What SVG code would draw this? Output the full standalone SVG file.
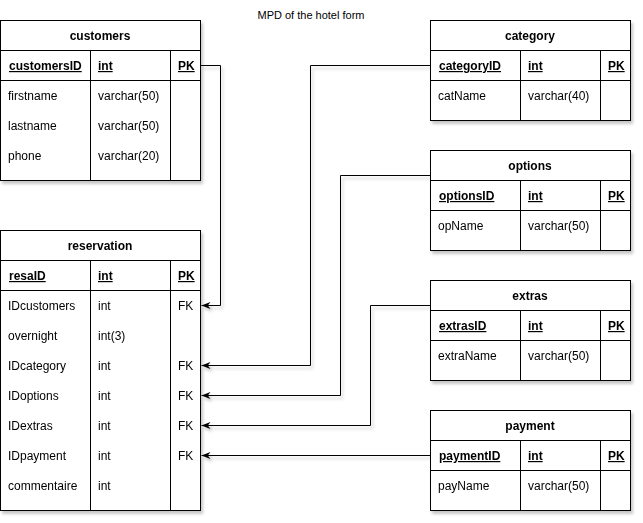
<svg xmlns="http://www.w3.org/2000/svg" width="643" height="523" viewBox="0 0 643 523">
<style>
  .box{fill:#fff;stroke:#000;stroke-width:1}
  .ln{stroke:#000;stroke-width:1;fill:none}
  .t{font-family:"Liberation Sans",Arial,sans-serif;font-size:12px;fill:#000}
  .h{font-weight:bold;text-anchor:middle}
  .pk{font-weight:bold;text-decoration:underline}
  .title{font-family:"Liberation Sans",Arial,sans-serif;font-size:11px;fill:#000;text-anchor:middle}
  .edge{stroke:#000;stroke-width:1;fill:none;marker-end:url(#arr)}
</style>
<defs>
  <filter id="sh" x="-10%" y="-10%" width="130%" height="130%">
    <feDropShadow dx="2" dy="3" stdDeviation="1.5" flood-color="#000" flood-opacity="0.22"/>
  </filter>
  <marker id="arr" viewBox="0 0 10 10" refX="10" refY="5" markerWidth="9" markerHeight="9" markerUnits="userSpaceOnUse" orient="auto">
    <path d="M0,1 L10,5 L0,9 L3,5 Z" fill="#000"/>
  </marker>
</defs>
<rect width="643" height="523" fill="#fff"/>
<text class="title" x="311" y="19">MPD of the hotel form</text>

<g id="connectors" filter="url(#sh)">
  <path class="edge" d="M200.5,65.5 H220.5 V305.5 H201.5"/>
  <path class="edge" d="M430.5,65.5 H310.5 V365.5 H201.5"/>
  <path class="edge" d="M430.5,175.5 H340.5 V395.5 H201.5"/>
  <path class="edge" d="M430.5,305.5 H370.5 V425.5 H201.5"/>
  <path class="edge" d="M430.5,455.5 H201.5"/>
</g>

<g id="customers" filter="url(#sh)">
  <rect class="box" x="0.5" y="20.5" width="200" height="160"/>
  <path class="ln" d="M0.5,50.5 H200.5 M0.5,80.5 H200.5 M90.5,50.5 V180.5 M170.5,50.5 V180.5"/>
  <text class="t h" x="100" y="40">customers</text>
  <text class="t pk" x="9" y="70">customersID</text>
  <text class="t pk" x="98" y="70">int</text>
  <text class="t pk" x="178" y="70">PK</text>
  <text class="t" x="8" y="100">firstname</text>
  <text class="t" x="98" y="100">varchar(50)</text>
  <text class="t" x="8" y="130">lastname</text>
  <text class="t" x="98" y="130">varchar(50)</text>
  <text class="t" x="8" y="160">phone</text>
  <text class="t" x="98" y="160">varchar(20)</text>
</g>

<g id="reservation" filter="url(#sh)">
  <rect class="box" x="0.5" y="230.5" width="200" height="280"/>
  <path class="ln" d="M0.5,260.5 H200.5 M0.5,290.5 H200.5 M90.5,260.5 V510.5 M170.5,260.5 V510.5"/>
  <text class="t h" x="100" y="250">reservation</text>
  <text class="t pk" x="9" y="280">resaID</text>
  <text class="t pk" x="98" y="280">int</text>
  <text class="t pk" x="178" y="280">PK</text>
  <text class="t" x="8" y="310">IDcustomers</text>
  <text class="t" x="98" y="310">int</text>
  <text class="t" x="178" y="310">FK</text>
  <text class="t" x="8" y="340">overnight</text>
  <text class="t" x="98" y="340">int(3)</text>
  <text class="t" x="8" y="370">IDcategory</text>
  <text class="t" x="98" y="370">int</text>
  <text class="t" x="178" y="370">FK</text>
  <text class="t" x="8" y="400">IDoptions</text>
  <text class="t" x="98" y="400">int</text>
  <text class="t" x="178" y="400">FK</text>
  <text class="t" x="8" y="430">IDextras</text>
  <text class="t" x="98" y="430">int</text>
  <text class="t" x="178" y="430">FK</text>
  <text class="t" x="8" y="460">IDpayment</text>
  <text class="t" x="98" y="460">int</text>
  <text class="t" x="178" y="460">FK</text>
  <text class="t" x="8" y="490">commentaire</text>
  <text class="t" x="98" y="490">int</text>
</g>

<g id="category" filter="url(#sh)">
  <rect class="box" x="430.5" y="20.5" width="200" height="100"/>
  <path class="ln" d="M430.5,50.5 H630.5 M430.5,80.5 H630.5 M520.5,50.5 V120.5 M600.5,50.5 V120.5"/>
  <text class="t h" x="530" y="40">category</text>
  <text class="t pk" x="439" y="70">categoryID</text>
  <text class="t pk" x="528" y="70">int</text>
  <text class="t pk" x="608" y="70">PK</text>
  <text class="t" x="438" y="100">catName</text>
  <text class="t" x="528" y="100">varchar(40)</text>
</g>

<g id="options" filter="url(#sh)">
  <rect class="box" x="430.5" y="150.5" width="200" height="100"/>
  <path class="ln" d="M430.5,180.5 H630.5 M430.5,210.5 H630.5 M520.5,180.5 V250.5 M600.5,180.5 V250.5"/>
  <text class="t h" x="530" y="170">options</text>
  <text class="t pk" x="439" y="200">optionsID</text>
  <text class="t pk" x="528" y="200">int</text>
  <text class="t pk" x="608" y="200">PK</text>
  <text class="t" x="438" y="230">opName</text>
  <text class="t" x="528" y="230">varchar(50)</text>
</g>

<g id="extras" filter="url(#sh)">
  <rect class="box" x="430.5" y="280.5" width="200" height="100"/>
  <path class="ln" d="M430.5,310.5 H630.5 M430.5,340.5 H630.5 M520.5,310.5 V380.5 M600.5,310.5 V380.5"/>
  <text class="t h" x="530" y="300">extras</text>
  <text class="t pk" x="439" y="330">extrasID</text>
  <text class="t pk" x="528" y="330">int</text>
  <text class="t pk" x="608" y="330">PK</text>
  <text class="t" x="438" y="360">extraName</text>
  <text class="t" x="528" y="360">varchar(50)</text>
</g>

<g id="payment" filter="url(#sh)">
  <rect class="box" x="430.5" y="410.5" width="200" height="100"/>
  <path class="ln" d="M430.5,440.5 H630.5 M430.5,470.5 H630.5 M520.5,440.5 V510.5 M600.5,440.5 V510.5"/>
  <text class="t h" x="530" y="430">payment</text>
  <text class="t pk" x="439" y="460">paymentID</text>
  <text class="t pk" x="528" y="460">int</text>
  <text class="t pk" x="608" y="460">PK</text>
  <text class="t" x="438" y="490">payName</text>
  <text class="t" x="528" y="490">varchar(50)</text>
</g>
</svg>
